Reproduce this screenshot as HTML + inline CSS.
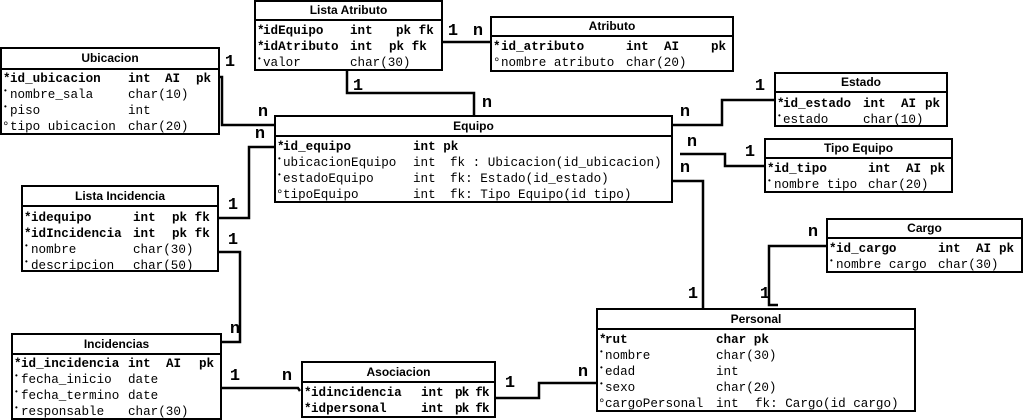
<!DOCTYPE html>
<html><head><meta charset="utf-8"><style>
body{margin:0;width:1023px;height:420px;background:#fff;position:relative;overflow:hidden;font-family:"Liberation Mono",monospace;}
.b{position:absolute;border:2px solid #000;box-sizing:border-box;background:#fff;}
.h{position:absolute;left:0;right:0;top:0;border-bottom:2px solid #000;font:bold 12px "Liberation Sans",sans-serif;text-align:center;box-sizing:border-box;}
.t{position:absolute;font-size:12.6px;line-height:16px;white-space:pre;color:#000;}
.k{font-weight:bold;}
.s{position:absolute;font-size:8px;line-height:8px;}
.l{position:absolute;font:bold 17px "Liberation Mono",monospace;line-height:18px;transform:translate(-50%,-50%);}
svg{position:absolute;left:0;top:0;}
</style></head><body>
<svg width="1023" height="420"><g fill="none" stroke="#000" stroke-width="2.5">
<polyline points="442,42 490,42"/>
<polyline points="347,70 347,93 474,93 474,116"/>
<polyline points="219,77 222,77 222,125 274,125"/>
<polyline points="218,218 249,218 249,147 274,147"/>
<polyline points="218,252 240,252 240,342 221,342"/>
<polyline points="221,388 298,388 300,391"/>
<polyline points="495,398 539,398 539,383 596,383"/>
<polyline points="672,125 722,125 722,100 774,100"/>
<polyline points="680,154 725,154 725,166 764,166"/>
<polyline points="672,181 703,181 703,309"/>
<polyline points="826,246 769,246 769,305 778,305"/>
</g></svg>

<div class="b" style="left:254px;top:0;width:189px;height:71px"><div class="h" style="height:19px;line-height:17px">Lista Atributo</div></div>
<span class="t k" style="left:257px;top:23px">*</span><span class="t k" style="left:263px;top:23px">idEquipo</span><span class="t k" style="left:350px;top:23px">int</span><span class="t k" style="left:396px;top:23px">pk fk</span>
<span class="t k" style="left:257px;top:39px">*</span><span class="t k" style="left:263px;top:39px">idAtributo</span><span class="t k" style="left:350px;top:39px">int</span><span class="t k" style="left:389px;top:39px">pk fk</span>
<span class="s" style="left:257px;top:56px">•</span><span class="t" style="left:263px;top:55px">valor</span><span class="t" style="left:350px;top:55px">char(30)</span>

<div class="b" style="left:490px;top:16px;width:244px;height:56px"><div class="h" style="height:19px;line-height:17px">Atributo</div></div>
<span class="t k" style="left:493px;top:39px">*</span><span class="t k" style="left:501px;top:39px">id_atributo</span><span class="t k" style="left:626px;top:39px">int</span><span class="t k" style="left:664px;top:39px">AI</span><span class="t k" style="left:711px;top:39px">pk</span>
<span class="t" style="left:493px;top:55px">°</span><span class="t" style="left:501px;top:55px">nombre atributo</span><span class="t" style="left:626px;top:55px">char(20)</span>

<div class="b" style="left:0;top:47px;width:220px;height:88px"><div class="h" style="height:21px;line-height:19px">Ubicacion</div></div>
<span class="t k" style="left:3px;top:71px">*</span><span class="t k" style="left:10px;top:71px">id_ubicacion</span><span class="t k" style="left:128px;top:71px">int</span><span class="t k" style="left:165px;top:71px">AI</span><span class="t k" style="left:196px;top:71px">pk</span>
<span class="s" style="left:3px;top:88px">•</span><span class="t" style="left:10px;top:87px">nombre_sala</span><span class="t" style="left:128px;top:87px">char(10)</span>
<span class="s" style="left:3px;top:104px">•</span><span class="t" style="left:10px;top:103px">piso</span><span class="t" style="left:128px;top:103px">int</span>
<span class="t" style="left:2px;top:119px">°</span><span class="t" style="left:10px;top:119px">tipo ubicacion</span><span class="t" style="left:128px;top:119px">char(20)</span>

<div class="b" style="left:274px;top:115px;width:399px;height:88px"><div class="h" style="height:20px;line-height:18px">Equipo</div></div>
<span class="t k" style="left:277px;top:139px">*</span><span class="t k" style="left:283px;top:139px">id_equipo</span><span class="t k" style="left:413px;top:139px">int pk</span>
<span class="s" style="left:277px;top:156px">•</span><span class="t" style="left:283px;top:155px">ubicacionEquipo</span><span class="t" style="left:413px;top:155px">int</span><span class="t" style="left:450px;top:155px">fk : Ubicacion(id_ubicacion)</span>
<span class="s" style="left:277px;top:172px">•</span><span class="t" style="left:283px;top:171px">estadoEquipo</span><span class="t" style="left:413px;top:171px">int</span><span class="t" style="left:450px;top:171px">fk: Estado(id_estado)</span>
<span class="t" style="left:276px;top:187px">°</span><span class="t" style="left:283px;top:187px">tipoEquipo</span><span class="t" style="left:413px;top:187px">int</span><span class="t" style="left:450px;top:187px">fk: Tipo Equipo(id tipo)</span>

<div class="b" style="left:774px;top:72px;width:174px;height:55px"><div class="h" style="height:19px;line-height:17px">Estado</div></div>
<span class="t k" style="left:777px;top:96px">*</span><span class="t k" style="left:783px;top:96px">id_estado</span><span class="t k" style="left:863px;top:96px">int</span><span class="t k" style="left:901px;top:96px">AI</span><span class="t k" style="left:925px;top:96px">pk</span>
<span class="s" style="left:777px;top:113px">•</span><span class="t" style="left:783px;top:112px">estado</span><span class="t" style="left:863px;top:112px">char(10)</span>

<div class="b" style="left:764px;top:138px;width:189px;height:55px"><div class="h" style="height:19px;line-height:17px">Tipo Equipo</div></div>
<span class="t k" style="left:767px;top:161px">*</span><span class="t k" style="left:774px;top:161px">id_tipo</span><span class="t k" style="left:868px;top:161px">int</span><span class="t k" style="left:906px;top:161px">AI</span><span class="t k" style="left:930px;top:161px">pk</span>
<span class="s" style="left:767px;top:178px">•</span><span class="t" style="left:774px;top:177px">nombre tipo</span><span class="t" style="left:868px;top:177px">char(20)</span>

<div class="b" style="left:826px;top:218px;width:197px;height:55px"><div class="h" style="height:19px;line-height:17px">Cargo</div></div>
<span class="t k" style="left:829px;top:241px">*</span><span class="t k" style="left:836px;top:241px">id_cargo</span><span class="t k" style="left:938px;top:241px">int</span><span class="t k" style="left:976px;top:241px">AI</span><span class="t k" style="left:999px;top:241px">pk</span>
<span class="s" style="left:829px;top:258px">•</span><span class="t" style="left:836px;top:257px">nombre cargo</span><span class="t" style="left:938px;top:257px">char(30)</span>

<div class="b" style="left:21px;top:185px;width:198px;height:87px"><div class="h" style="height:20px;line-height:18px">Lista Incidencia</div></div>
<span class="t k" style="left:24px;top:210px">*</span><span class="t k" style="left:31px;top:210px">idequipo</span><span class="t k" style="left:133px;top:210px">int</span><span class="t k" style="left:172px;top:210px">pk fk</span>
<span class="t k" style="left:24px;top:226px">*</span><span class="t k" style="left:31px;top:226px">idIncidencia</span><span class="t k" style="left:133px;top:226px">int</span><span class="t k" style="left:172px;top:226px">pk fk</span>
<span class="s" style="left:24px;top:243px">•</span><span class="t" style="left:31px;top:242px">nombre</span><span class="t" style="left:133px;top:242px">char(30)</span>
<span class="s" style="left:24px;top:259px">•</span><span class="t" style="left:31px;top:258px">descripcion</span><span class="t" style="left:133px;top:258px">char(50)</span>

<div class="b" style="left:11px;top:333px;width:211px;height:87px"><div class="h" style="height:20px;line-height:18px">Incidencias</div></div>
<span class="t k" style="left:14px;top:356px">*</span><span class="t k" style="left:21px;top:356px">id_incidencia</span><span class="t k" style="left:128px;top:356px">int</span><span class="t k" style="left:166px;top:356px">AI</span><span class="t k" style="left:199px;top:356px">pk</span>
<span class="s" style="left:14px;top:373px">•</span><span class="t" style="left:21px;top:372px">fecha_inicio</span><span class="t" style="left:128px;top:372px">date</span>
<span class="s" style="left:14px;top:389px">•</span><span class="t" style="left:21px;top:388px">fecha_termino</span><span class="t" style="left:128px;top:388px">date</span>
<span class="s" style="left:14px;top:405px">•</span><span class="t" style="left:21px;top:404px">responsable</span><span class="t" style="left:128px;top:404px">char(30)</span>

<div class="b" style="left:301px;top:361px;width:195px;height:57px"><div class="h" style="height:20px;line-height:18px">Asociacion</div></div>
<span class="t k" style="left:304px;top:385px">*</span><span class="t k" style="left:311px;top:385px">idincidencia</span><span class="t k" style="left:421px;top:385px">int</span><span class="t k" style="left:455px;top:385px;letter-spacing:-0.8px">pk fk</span>
<span class="t k" style="left:304px;top:401px">*</span><span class="t k" style="left:311px;top:401px">idpersonal</span><span class="t k" style="left:421px;top:401px">int</span><span class="t k" style="left:455px;top:401px;letter-spacing:-0.8px">pk fk</span>

<div class="b" style="left:596px;top:308px;width:320px;height:104px"><div class="h" style="height:20px;line-height:18px">Personal</div></div>
<span class="t k" style="left:599px;top:332px">*</span><span class="t k" style="left:605px;top:332px">rut</span><span class="t k" style="left:716px;top:332px">char pk</span>
<span class="s" style="left:599px;top:349px">•</span><span class="t" style="left:605px;top:348px">nombre</span><span class="t" style="left:716px;top:348px">char(30)</span>
<span class="s" style="left:599px;top:365px">•</span><span class="t" style="left:605px;top:364px">edad</span><span class="t" style="left:716px;top:364px">int</span>
<span class="s" style="left:599px;top:381px">•</span><span class="t" style="left:605px;top:380px">sexo</span><span class="t" style="left:716px;top:380px">char(20)</span>
<span class="t" style="left:598px;top:396px">°</span><span class="t" style="left:605px;top:396px">cargoPersonal</span><span class="t" style="left:716px;top:396px">int</span><span class="t" style="left:755px;top:396px">fk: Cargo(id cargo)</span>

<span class="l" style="left:453px;top:32px">1</span><span class="l" style="left:478px;top:32px">n</span>
<span class="l" style="left:358px;top:87px">1</span><span class="l" style="left:487px;top:104px">n</span>
<span class="l" style="left:230px;top:63px">1</span><span class="l" style="left:263px;top:113px">n</span>
<span class="l" style="left:260px;top:135px">n</span>
<span class="l" style="left:233px;top:206px">1</span><span class="l" style="left:233px;top:241px">1</span>
<span class="l" style="left:235px;top:330px">n</span>
<span class="l" style="left:235px;top:377px">1</span><span class="l" style="left:287px;top:377px">n</span>
<span class="l" style="left:510px;top:384px">1</span><span class="l" style="left:583px;top:373px">n</span>
<span class="l" style="left:685px;top:113px">n</span><span class="l" style="left:760px;top:87px">1</span>
<span class="l" style="left:692px;top:143px">n</span><span class="l" style="left:750px;top:153px">1</span>
<span class="l" style="left:685px;top:169px">n</span><span class="l" style="left:693px;top:295px">1</span>
<span class="l" style="left:813px;top:233px">n</span><span class="l" style="left:765px;top:295px">1</span>
</body></html>
